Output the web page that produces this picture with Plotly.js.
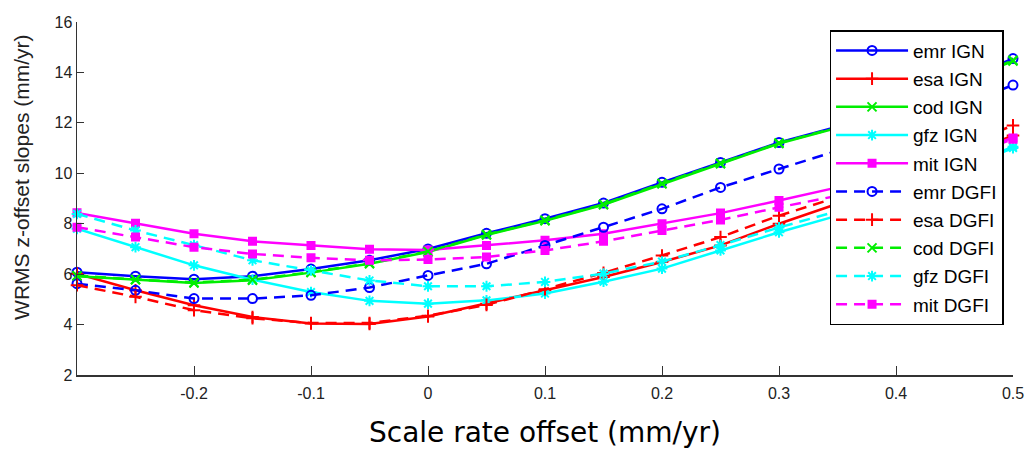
<!DOCTYPE html>
<html>
<head>
<meta charset="utf-8">
<script src="https://cdn.plot.ly/plotly-3.0.1.min.js"></script>
<style>
  html, body { margin: 0; padding: 0; background: #fff; }
  #chart { width: 1034px; height: 461px; }
</style>
</head>
<body>
<div id="chart"></div>
<script>
// Scale rate offset (mm/yr)
const scaleOffset = [-0.3, -0.25, -0.2, -0.15, -0.1, -0.05, 0, 0.05, 0.1, 0.15, 0.2, 0.25, 0.3, 0.35, 0.4, 0.45, 0.5];

// WRMS of z-offset slopes (mm/yr), IGN solution
const emrIGN = [6.08, 5.92, 5.80, 5.92, 6.20, 6.55, 7.00, 7.62, 8.20, 8.82, 9.64, 10.43, 11.22, 11.85, 12.70, 13.60, 14.55];
const esaIGN = [6.02, 5.36, 4.77, 4.30, 4.04, 4.02, 4.32, 4.83, 5.36, 5.89, 6.48, 7.14, 8.00, 8.79, 9.65, 10.55, 11.50];
const codIGN = [5.92, 5.78, 5.65, 5.76, 6.06, 6.41, 6.88, 7.55, 8.12, 8.75, 9.58, 10.38, 11.18, 11.80, 12.65, 13.55, 14.45];
const gfzIGN = [7.80, 7.07, 6.35, 5.78, 5.29, 4.94, 4.83, 4.96, 5.23, 5.70, 6.22, 6.94, 7.66, 8.32, 9.20, 10.10, 11.00];
const mitIGN = [8.43, 8.02, 7.60, 7.30, 7.14, 6.99, 6.96, 7.14, 7.34, 7.60, 8.00, 8.42, 8.92, 9.44, 10.05, 10.70, 11.40];

// WRMS of z-offset slopes (mm/yr), DGFI solution
const emrDGFI = [5.62, 5.36, 5.03, 5.03, 5.16, 5.47, 5.95, 6.41, 7.14, 7.86, 8.59, 9.44, 10.17, 10.90, 11.70, 12.60, 13.50];
const esaDGFI = [5.56, 5.10, 4.57, 4.25, 4.06, 4.06, 4.35, 4.78, 5.40, 6.05, 6.74, 7.47, 8.32, 9.05, 10.00, 10.95, 11.90];
const codDGFI = [5.94, 5.79, 5.67, 5.78, 6.08, 6.43, 6.90, 7.57, 8.14, 8.77, 9.60, 10.40, 11.20, 11.82, 12.67, 13.57, 14.48];
const gfzDGFI = [8.39, 7.73, 7.15, 6.55, 6.15, 5.75, 5.52, 5.52, 5.69, 6.02, 6.50, 7.15, 7.85, 8.50, 9.30, 10.15, 11.05];
const mitDGFI = [7.86, 7.47, 7.07, 6.80, 6.65, 6.55, 6.58, 6.68, 6.94, 7.30, 7.73, 8.15, 8.65, 9.11, 9.80, 10.55, 11.35];

const seriesNames = ['emr IGN', 'esa IGN', 'cod IGN', 'gfz IGN', 'mit IGN',
                     'emr DGFI', 'esa DGFI', 'cod DGFI', 'gfz DGFI', 'mit DGFI'];
const seriesValues = [emrIGN, esaIGN, codIGN, gfzIGN, mitIGN,
                      emrDGFI, esaDGFI, codDGFI, gfzDGFI, mitDGFI];

const xTickVals = [-0.2, -0.1, 0, 0.1, 0.2, 0.3, 0.4, 0.5];
const xTickText = ['-0.2', '-0.1', '0', '0.1', '0.2', '0.3', '0.4', '0.5'];

// per-centre colour and marker
const colours = ['#0000ff', '#ff0000', '#00ee00', '#00ffff', '#ff00ff'];
const symbols = ['circle-open', 'cross-thin-open', 'x-thin-open', 'asterisk-open', 'square'];

const traces = seriesNames.map((name, i) => {
  const c = i % 5;
  const dashed = i >= 5;
  const sym = symbols[c];
  return {
    type: 'scatter',
    mode: 'lines+markers',
    name: name,
    legendgroup: name,
    x: scaleOffset,
    y: seriesValues[i],
    cliponaxis: false,
    line: { color: colours[c], width: 2.5, dash: dashed ? '11px,7px' : 'solid' },
    marker: {
      symbol: sym,
      size: sym === 'square' ? 7 : 9,
      color: colours[c],
      line: { color: colours[c], width: 2 }
    }
  };
});

const axisFont = { family: 'Liberation Sans, Arial, sans-serif', size: 16, color: '#222' };

const layout = {
  width: 1034,
  height: 461,
  margin: { l: 77, r: 21, t: 22, b: 86 },
  paper_bgcolor: '#ffffff',
  plot_bgcolor: '#ffffff',
  showlegend: true,
  legend: {
    x: 0.804, y: 0.977, xanchor: 'left', yanchor: 'top',
    bgcolor: '#ffffff',
    bordercolor: '#000000',
    borderwidth: 1.5,
    traceorder: 'grouped',
    tracegroupgap: 0.5,
    itemwidth: 72,
    font: { family: 'Liberation Sans, Arial, sans-serif', size: 19, color: '#000' }
  },
  xaxis: {
    range: [-0.3, 0.5],
    tickmode: 'array',
    tickvals: xTickVals,
    ticktext: xTickText,
    ticks: 'inside',
    ticklen: 9,
    tickcolor: '#333',
    ticklabelstandoff: 3,
    showline: true,
    linecolor: '#333',
    linewidth: 1.5,
    mirror: false,
    showgrid: false,
    zeroline: false,
    tickfont: axisFont,
    title: {
      text: 'Scale rate offset (mm/yr)',
      font: { family: 'DejaVu Sans, sans-serif', size: 28, color: '#000' },
      standoff: 21
    }
  },
  yaxis: {
    range: [2, 16],
    dtick: 2,
    ticks: 'inside',
    ticklen: 7,
    tickcolor: '#333',
    showline: true,
    linecolor: '#333',
    linewidth: 1.5,
    mirror: false,
    showgrid: false,
    zeroline: false,
    tickfont: axisFont
  },
  annotations: [{
    text: 'WRMS z-offset slopes (mm/yr)',
    xref: 'paper', yref: 'paper',
    x: -0.0588, y: 0.561,
    xanchor: 'center', yanchor: 'middle',
    textangle: -90,
    showarrow: false,
    font: { family: 'Liberation Sans, Arial, sans-serif', size: 21, color: '#222' }
  }]
};

Plotly.newPlot('chart', traces, layout, { displayModeBar: false, staticPlot: true });
</script>
</body>
</html>
